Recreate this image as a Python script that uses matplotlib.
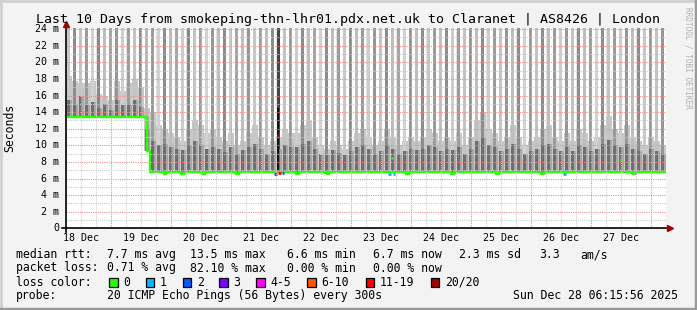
import numpy as np
import matplotlib
matplotlib.use("Agg")
import matplotlib.pyplot as plt
from matplotlib.lines import Line2D
from matplotlib.patches import Rectangle

# hours counted from 18 Dec 00:00
t_start, t_end = 6.25, 246.25
day_labels = ["18 Dec", "19 Dec", "20 Dec", "21 Dec", "22 Dec",
              "23 Dec", "24 Dec", "25 Dec", "26 Dec", "27 Dec"]
y_labels = ["0", "2 m", "4 m", "6 m", "8 m", "10 m", "12 m",
            "14 m", "16 m", "18 m", "20 m", "22 m", "24 m"]

# median rtt (ms) as a step line: start hour of each step and its value
med_t = [6.25, 38.6, 39.9, 45.5, 46.3, 52.1, 53.3, 60.5, 61.7, 74.0, 75.2,
         98.0, 99.2, 110.5, 111.3, 142.0, 143.2, 160.1, 161.3, 178.0, 179.2,
         196.1, 197.3, 233.0, 234.2]
med_v = [13.4, 9.3, 6.75, 6.6, 6.75, 6.6, 6.75, 6.6, 6.75, 6.6, 6.75,
         6.6, 6.75, 6.6, 6.75, 6.6, 6.75, 6.6, 6.75, 6.6, 6.75,
         6.6, 6.75, 6.6, 6.75]

# smoke, one stripe every 2.4 h: light haze top, dark core top, stripe grey
haze_top = [18.3, 17.8, 17.5, 17.5, 17.8, 16.2, 16.0, 15.5, 17.8, 16.5,
            17.5, 18.0, 17.0, 14.5, 14.0, 12.5, 12.0, 11.5, 11.0, 10.5,
            12.0, 13.0, 12.5, 11.5, 12.0, 11.0, 10.5, 11.5, 10.0, 10.5,
            11.5, 12.5, 11.0, 10.0, 10.5, 11.0, 12.0, 11.5, 11.5, 12.5,
            13.0, 11.0, 10.0, 9.5, 10.5, 10.0, 9.5, 10.5, 11.5, 12.0,
            11.0, 10.0, 10.5, 12.0, 11.0, 10.0, 10.5, 11.0, 10.5, 11.0,
            12.0, 11.5, 10.5, 11.0, 10.5, 11.5, 10.0, 11.0, 13.0, 14.0,
            12.0, 11.5, 10.5, 11.0, 12.5, 11.0, 10.0, 10.5, 11.0, 12.0,
            12.5, 11.0, 10.5, 11.5, 10.5, 12.0, 11.5, 10.5, 11.0, 12.5,
            13.5, 12.0, 11.5, 12.5, 11.0, 10.5, 10.0, 11.0, 10.5, 10.0]
core_top = [15.5, 15.0, 16.0, 14.8, 15.2, 14.5, 15.0, 14.3, 15.5, 14.8,
            15.0, 15.5, 14.6, 12.0, 10.5, 10.0, 10.2, 9.8, 9.5, 9.4,
            10.0, 10.5, 10.0, 9.6, 9.8, 9.5, 9.2, 9.8, 9.0, 9.4,
            9.8, 10.2, 9.5, 9.0, 9.3, 9.6, 10.0, 9.8, 9.8, 10.2,
            10.5, 9.6, 9.0, 8.8, 9.4, 9.1, 8.8, 9.3, 9.8, 10.0,
            9.5, 9.0, 9.3, 10.0, 9.6, 9.0, 9.3, 9.6, 9.4, 9.6,
            10.0, 9.8, 9.3, 9.6, 9.4, 9.8, 9.0, 9.6, 10.5, 11.0,
            10.0, 9.8, 9.3, 9.6, 10.2, 9.6, 9.0, 9.3, 9.6, 10.0,
            10.2, 9.6, 9.3, 9.8, 9.3, 10.0, 9.8, 9.3, 9.6, 10.2,
            10.6, 10.0, 9.8, 10.2, 9.6, 9.3, 9.0, 9.6, 9.3, 9.0]
stripe_grey = [200, 140, 195, 155, 210, 135, 190, 165, 150, 205,
               155, 195, 140, 185, 155, 210, 140, 190, 165, 205,
               135, 195, 155, 210, 150, 190, 140, 205, 165, 190,
               150, 200, 155, 190, 140, 70, 195, 155, 205, 140,
               190, 165, 210, 140, 190, 155, 200, 140, 190, 155,
               205, 150, 195, 140, 190, 165, 210, 150, 190, 140,
               200, 155, 190, 140, 205, 155, 195, 150, 190, 140,
               205, 155, 195, 150, 190, 140, 210, 155, 195, 140,
               190, 155, 205, 150, 195, 140, 190, 155, 210, 140,
               195, 155, 205, 150, 190, 140, 200, 155, 195, 150]
stripe_top = 24.1

# loss coloured bits of the median: start hour, end hour, value, colour
loss_marks = [(89.3, 90.5, 6.6, "#7e00ff"), (90.9, 92.1, 6.7, "#ff0000"),
              (90.5, 90.9, 11.2, "#ff0000"), (92.5, 93.3, 6.7, "#0059ff"),
              (135.1, 136.3, 6.6, "#00b8ff"), (136.3, 137.1, 8.5, "#26ff00"),
              (137.1, 137.9, 6.6, "#00b8ff"), (204.9, 206.1, 6.6, "#00b8ff"),
              (227.7, 228.5, 8.2, "#26ff00")]

loss_names = ["0", "1", "2", "3", "4-5", "6-10", "11-19", "20/20"]
loss_colors = ["#26ff00", "#00b8ff", "#0059ff", "#7e00ff",
               "#ff00ff", "#ff5500", "#ff0000", "#a00000"]
loss_box_x = [109, 145.7, 182.7, 219.3, 256, 307.3, 365.7, 430.7]

W, H = 697, 310
fig = plt.figure(figsize=(W / 100, H / 100), dpi=100, facecolor="#f3f3f3")
ax = fig.add_axes([66.3 / W, 1 - 228.3 / H, 600 / W, 200 / H])
ax.set_facecolor("white")
ax.set_xlim(t_start, t_end)
ax.set_ylim(0, 24.1)
for s in ax.spines.values():
    s.set_visible(False)
ax.set_xticks([])
ax.set_yticks([])

mono = "DejaVu Sans Mono"


def median_at(t):
    i = np.searchsorted(med_t, t, side="right") - 1
    return np.asarray(med_v)[np.clip(i, 0, len(med_v) - 1)]


n = len(haze_top)
st = t_start + 2.4 * np.arange(n)
base = median_at(st + 1.2)
haze_top = np.array(haze_top)
core_top = np.array(core_top)

# haze spans the full stripe width, the stripes themselves less of it
ax.bar(st, haze_top - base, bottom=base, width=2.4, align="edge",
       color="#c8c8c8", linewidth=0, zorder=1)
greys = ["#%02x%02x%02x" % (g, g, g) for g in stripe_grey]
ax.bar(st + 0.3, stripe_top - base, bottom=base, width=1.1, align="edge",
       color=greys, linewidth=0, zorder=2)
ax.bar(st + 1.4, core_top - base, bottom=base, width=0.8, align="edge",
       color="#a6a6a6", linewidth=0, zorder=3)
ax.bar(st + 0.3, core_top - base, bottom=base, width=1.1, align="edge",
       color="#6e6e6e", linewidth=0, zorder=3)
# dark column on 21 Dec
ax.bar(90.4, 14.5 - 6.7, bottom=6.7, width=1.0, align="edge",
       color="#111111", linewidth=0, zorder=4)

# median line
mt = list(med_t) + [t_end]
mv = list(med_v) + [med_v[-1]]
ax.step(mt, mv, where="post", color="#26ff00", lw=1.7, zorder=6,
        solid_capstyle="butt")
ax.plot([38.6, 38.6], [13.4, 9.3], color="#222222", lw=1, zorder=5)
ax.plot([39.9, 39.9], [9.3, 6.75], color="#222222", lw=1, zorder=5)
for t0, t1, v, c in loss_marks:
    ax.plot([t0, t1], [v, v], color=c, lw=2.0, zorder=7,
            solid_capstyle="butt")

# grid on top
grid_dots = (0, (1, 1))
for h in np.arange(6, 246, 6):
    if h % 24:
        ax.axvline(h, color="#cccccc", lw=0.8, ls=grid_dots, zorder=8)
for h in np.arange(24, 246, 24):
    ax.axvline(h, color="#f09090", lw=0.8, ls=grid_dots, zorder=8)
for v in range(1, 25):
    col = "#f09090" if v % 2 == 0 else "#cccccc"
    ax.axhline(v, color=col, lw=0.8, ls=grid_dots, zorder=8)

# axes lines with arrows
ax.plot([-0.007, 1.0], [0, 0], color="black", lw=1.2,
        transform=ax.transAxes, clip_on=False, zorder=9)
ax.plot([0, 0], [-0.02, 1.02], color="black", lw=1.2,
        transform=ax.transAxes, clip_on=False, zorder=9)
ax.plot([1.006], [0], marker=">", color="#a00000", ms=5,
        transform=ax.transAxes, clip_on=False, zorder=10)
ax.plot([0], [1.022], marker="^", color="#a00000", ms=5,
        transform=ax.transAxes, clip_on=False, zorder=10)

# tick labels
for i, lab in enumerate(day_labels):
    ax.text(12 + 24 * i, -0.05, lab, transform=ax.get_xaxis_transform(),
            ha="center", va="center", family=mono, fontsize=7.2)
for i, lab in enumerate(y_labels):
    ax.text(-0.012, 2 * i, lab, transform=ax.get_yaxis_transform(),
            ha="right", va="center", family=mono, fontsize=7.2)

fig.text(10 / W, 1 - 128 / H, "Seconds", rotation=90, ha="center",
         va="center", family=mono, fontsize=8.3)
fig.text(347.5 / W, 1 - 19 / H,
         "Last 10 Days from smokeping-thn-lhr01.pdx.net.uk to Claranet | AS8426 | London",
         ha="center", va="center", family=mono, fontsize=9.5)
fig.text(688 / W, 1 - 58 / H, "RRDTOOL / TOBI OETIKER", rotation=-90,
         ha="center", va="center", family=mono, fontsize=5.6, color="#b0b0b0")

rows = [
    (254.7, [(16, "median rtt:"), (107.3, "7.7 ms avg"), (190, "13.5 ms max"),
             (286.7, "6.6 ms min"), (372.7, "6.7 ms now"), (459, "2.3 ms sd"),
             (539, "3.3"), (580, "am/s")]),
    (268, [(16, "packet loss:"), (107.3, "0.71 % avg"), (190, "82.10 % max"),
           (286.7, "0.00 % min"), (372.7, "0.00 % now")]),
    (282.3, [(16, "loss color:")]),
    (295.7, [(16, "probe:"), (107.3, "20 ICMP Echo Pings (56 Bytes) every 300s"),
             (513.3, "Sun Dec 28 06:15:56 2025")]),
]
for y, items in rows:
    for x, s in items:
        fig.text(x / W, 1 - y / H, s, ha="left", va="center", family=mono,
                 fontsize=8.3)

for x, name, c in zip(loss_box_x, loss_names, loss_colors):
    fig.add_artist(Rectangle((x / W, 1 - 286.5 / H), 8.5 / W, 8.5 / H,
                             facecolor=c, edgecolor="black", lw=0.9,
                             transform=fig.transFigure))
    fig.text((x + 14.3) / W, 1 - 282.3 / H, name, ha="left", va="center",
             family=mono, fontsize=8.3)

# 3d frame of the image
fig.add_artist(Line2D([0, 1], [1 - 1 / H, 1 - 1 / H], color="#d0d0d0", lw=2,
                      transform=fig.transFigure))
fig.add_artist(Line2D([1 / W, 1 / W], [0, 1], color="#d0d0d0", lw=2,
                      transform=fig.transFigure))
fig.add_artist(Line2D([0, 1], [1.5 / H, 1.5 / H], color="#9a9a9a", lw=2.5,
                      transform=fig.transFigure))
fig.add_artist(Line2D([1 - 1.5 / W, 1 - 1.5 / W], [0, 1], color="#9a9a9a",
                      lw=2.5, transform=fig.transFigure))

fig.savefig("out.png", dpi=100, facecolor=fig.get_facecolor())
